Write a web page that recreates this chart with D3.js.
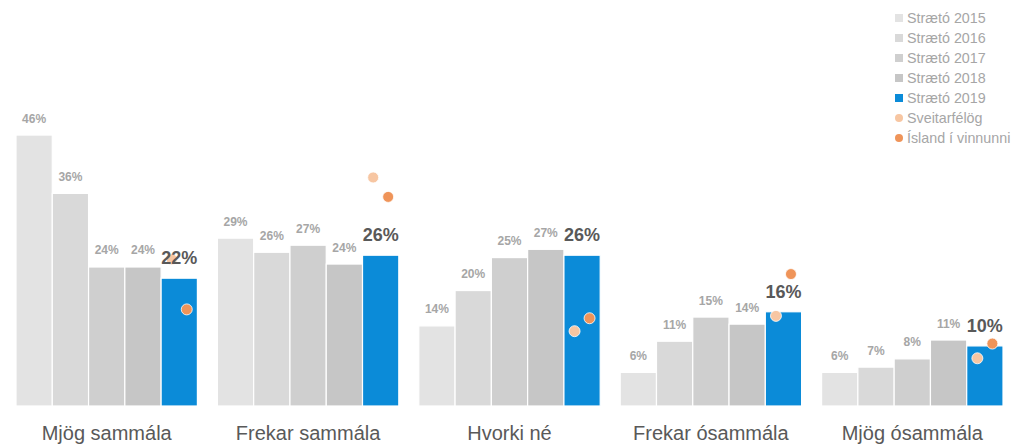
<!DOCTYPE html>
<html><head><meta charset="utf-8">
<script src="https://cdn.jsdelivr.net/npm/d3@7"></script>
<style>body{margin:0;background:#fff}svg{display:block;font-family:"Liberation Sans",Arial,sans-serif}</style>
</head><body><svg id="c" width="1015" height="445"></svg>
<script>
const categories = ["Mjög sammála","Frekar sammála","Hvorki né","Frekar ósammála","Mjög ósammála"];
const barSeries = ["Strætó 2015","Strætó 2016","Strætó 2017","Strætó 2018","Strætó 2019"];
const s2015 = [46, 28.5, 13.6, 5.7, 5.7];
const s2016 = [36.1, 26.1, 19.6, 11, 6.6];
const s2017 = [23.6, 27.3, 25.2, 15.1, 8];
const s2018 = [23.6, 24.1, 26.6, 13.9, 11.2];
const s2019 = [21.7, 25.6, 25.6, 16, 10.2];
const sveitarfelog = [24.9, 38.8, 12.7, 15.3, 8.1];
const island = [16.4, 35.5, 14.9, 22.4, 10.6];
const barValues = [s2015, s2016, s2017, s2018, s2019];
const barColors = ["#e3e3e3","#d9d9d9","#cfcfcf","#c6c6c6","#0b8bd8"];
const dotSeries = ["Sveitarfélög","Ísland í vinnunni"];
const dotValues = [sveitarfelog, island];
const dotColors = ["#f7c6a2","#ef9459"];

const svg = d3.select("#c");
const x0 = d3.scaleBand().domain(categories).range([6, 1013]).padding(0);
const x1 = d3.scaleBand().domain(barSeries).range([10, x0.bandwidth()-10]).padding(0);
const y = d3.scaleLinear().domain([0, 50]).range([406, 111.5]);

const groups = svg.selectAll("g.grp").data(categories).join("g").attr("class","grp")
  .attr("transform", c => `translate(${x0(c)},0)`);

groups.each(function(c, ci){
  const g = d3.select(this);
  barSeries.forEach((s, si) => {
    const v = barValues[si][ci];
    g.append("rect").attr("x", x1(s)).attr("y", y(v))
      .attr("width", x1.bandwidth()).attr("height", y(0)-y(v))
      .attr("fill", barColors[si]).attr("stroke","#fff").attr("stroke-width",1.2);
  });
  const cx = x1(barSeries[4]) + x1.bandwidth()/2;
  dotSeries.forEach((d, di) => {
    g.append("circle").attr("cx", cx + (di===0 ? -7.5 : 7.5)).attr("cy", y(dotValues[di][ci]))
      .attr("r", 5.5).attr("fill", dotColors[di]).attr("stroke","#fff").attr("stroke-width",0.8);
  });
  barSeries.forEach((s, si) => {
    const v = barValues[si][ci];
    const last = si === barSeries.length-1;
    g.append("text").attr("x", x1(s)+x1.bandwidth()/2)
      .attr("y", y(v) - (last ? 14 : 12.5))
      .attr("text-anchor","middle")
      .attr("font-size", last ? 18 : 12).attr("font-weight","bold")
      .attr("fill", last ? "#595959" : "#a6a6a6")
      .text(Math.round(v) + "%");
  });
  g.append("text").attr("x", x0.bandwidth()/2).attr("y", 440)
    .attr("text-anchor","middle").attr("font-size", 20).attr("fill","#595959").text(c);
});

const legend = svg.append("g");
const legendItems = barSeries.map((s,i)=>({name:s,color:barColors[i],type:"rect"}))
  .concat(dotSeries.map((s,i)=>({name:s,color:dotColors[i],type:"circle"})));
legendItems.forEach((it, i) => {
  const cy = 18 + i*20;
  if (it.type === "rect") {
    legend.append("rect").attr("x",895).attr("y",cy-4).attr("width",8).attr("height",8).attr("fill",it.color);
  } else {
    legend.append("circle").attr("cx",899).attr("cy",cy).attr("r",4).attr("fill",it.color);
  }
  legend.append("text").attr("x",907).attr("y",cy+5).attr("font-size",14.3).attr("fill","#a6a6a6").text(it.name);
});
</script></body></html>
